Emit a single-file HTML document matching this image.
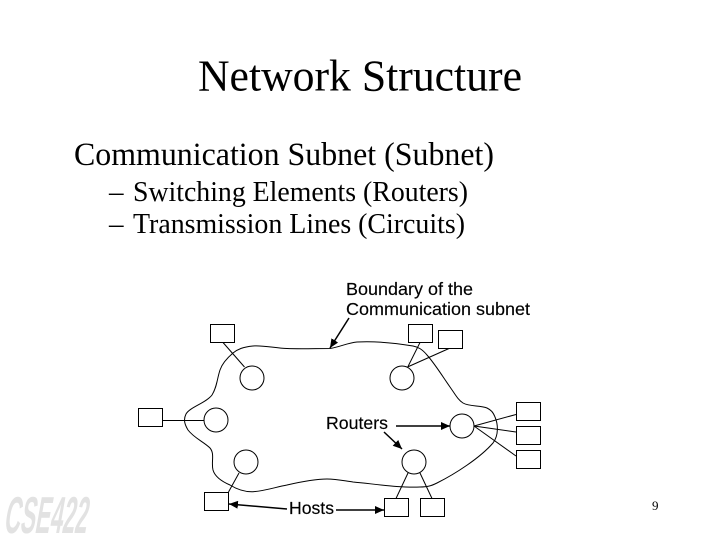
<!DOCTYPE html>
<html>
<head>
<meta charset="utf-8">
<style>
html,body{margin:0;padding:0;background:#fff;width:720px;height:540px;overflow:hidden}
svg{display:block}
.s{font-family:"Liberation Serif",serif;fill:#000}
.a{font-family:"Liberation Sans",sans-serif;fill:#000;font-size:17.5px;stroke:#000;stroke-width:.15px}
</style>
</head>
<body>
<svg width="720" height="540" viewBox="0 0 720 540" xmlns="http://www.w3.org/2000/svg">
<defs>
<marker id="ah" markerUnits="userSpaceOnUse" markerWidth="10" markerHeight="8" refX="9" refY="4" orient="auto"><path d="M0 0L9 4L0 8Z" fill="#000"/></marker>
</defs>
<text class="s" x="198" y="90.5" font-size="44" textLength="324" lengthAdjust="spacingAndGlyphs">Network Structure</text>
<text class="s" x="74" y="165" font-size="33" textLength="420" lengthAdjust="spacingAndGlyphs">Communication Subnet (Subnet)</text>
<text class="s" x="109" y="201" font-size="29">–</text>
<text class="s" x="133" y="201" font-size="29" textLength="335" lengthAdjust="spacingAndGlyphs">Switching Elements (Routers)</text>
<text class="s" x="109" y="233" font-size="29">–</text>
<text class="s" x="133" y="233" font-size="29" textLength="332" lengthAdjust="spacingAndGlyphs">Transmission Lines (Circuits)</text>

<text class="a" x="346" y="295" textLength="127" lengthAdjust="spacingAndGlyphs">Boundary of the</text>
<text class="a" x="346" y="315" textLength="184" lengthAdjust="spacingAndGlyphs">Communication subnet</text>
<text class="a" x="326" y="429" textLength="62" lengthAdjust="spacingAndGlyphs">Routers</text>
<text class="a" x="289" y="514" textLength="45" lengthAdjust="spacingAndGlyphs">Hosts</text>
<text class="s" x="652" y="510" font-size="13">9</text>

<g fill="none" stroke="#000" stroke-width="1">
<path d="M330 348.5C316 348.5 300 349 287 348.5C275 348 262 345 253 346C243 347 238 349 233 353C226 359 222 364 220 370C217 379 217 387 212 395C206 403 190 407 186 414C183 420 185 425 188 430C194 438 204 442 210 448C215 454 211 462 213 470C215 477 223 482 230 485C238 490 245 492 253 491.7C265 491 276 487 287 485C300 482 315 479 327 479C337 479 345 481 353 482C375 484 400 488 420 487C427 487 431 486 437 483C455 474 480 458 493 443C499 435 498 424 495 417C493 412 491 410 487 408C480 405 470 407 463 403C458 400 455 394 450 387C443 377 435 364 427 355C422 349 418 347 413 346C395 343 375 341 357 342C347 343 340 347 330 348.5Z"/>
<path d="M223 342.5L244.5 367"/>
<path d="M163 420.5H204"/>
<path d="M239 473L228.5 492"/>
<path d="M420 342.5L408 366.5"/>
<path d="M449 348.5L407.5 367"/>
<path d="M516 414.5L474 426"/>
<path d="M516 432L474 426"/>
<path d="M516 456L474 426"/>
<path d="M408 473L396 498.5"/>
<path d="M420 473L432 498.5"/>
<g fill="#fff">
<rect x="210.5" y="324.5" width="24" height="18"/>
<rect x="138.5" y="408.5" width="24" height="18"/>
<rect x="204.5" y="492.5" width="24" height="18"/>
<rect x="408.5" y="324.5" width="24" height="18"/>
<rect x="438.5" y="330.5" width="24" height="18"/>
<rect x="516.5" y="402.5" width="24" height="18"/>
<rect x="516.5" y="426.5" width="24" height="18"/>
<rect x="516.5" y="450.5" width="24" height="18"/>
<rect x="384.5" y="498.5" width="24" height="18"/>
<rect x="420.5" y="498.5" width="24" height="18"/>
<circle cx="252" cy="378" r="12"/>
<circle cx="216" cy="420" r="12"/>
<circle cx="246" cy="462" r="12"/>
<circle cx="402" cy="378" r="12"/>
<circle cx="462" cy="426" r="12"/>
<circle cx="414" cy="462" r="12"/>
</g>
</g>
<g fill="none" stroke="#000" stroke-width="1.5">
<path d="M349 318L330 348" marker-end="url(#ah)"/>
<path d="M396 426H450" marker-end="url(#ah)"/>
<path d="M384 432L402 449" marker-end="url(#ah)"/>
<path d="M287 509L229 504" marker-end="url(#ah)"/>
<path d="M336 510H384" marker-end="url(#ah)"/>
</g>
<text transform="translate(3 533) skewX(-10)" font-family="'Liberation Sans',sans-serif" font-weight="bold" font-size="52" fill="#e2e2e2" textLength="83" lengthAdjust="spacingAndGlyphs">CSE422</text>
</svg>
</body>
</html>
